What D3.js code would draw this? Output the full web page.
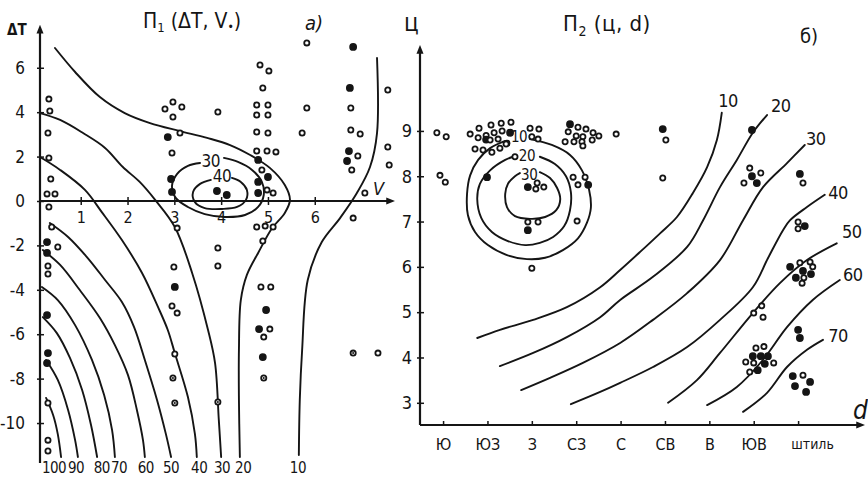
<!DOCTYPE html>
<html>
<head>
<meta charset="utf-8">
<script src="https://cdn.jsdelivr.net/npm/d3@7"></script>
<style>
	body { margin: 0; background: #fff; }
	svg { display: block; background: #fff; }
	text { font-family: 'Liberation Sans Narrow', 'DejaVu Sans Condensed', 'Roboto Condensed', Roboto, sans-serif; fill: #151515; }
	.contour { fill: none; stroke: #151515; stroke-width: 1.9; stroke-linecap: round; }
	.axis-line { stroke: #151515; stroke-width: 2.2; }
	.tick line { stroke: #151515; stroke-width: 1.5; }
</style>
</head>
<body>
<svg id="chart" width="868" height="478"></svg>
<script>
// ---------- panel а) : П1(ΔT, V•) ----------
const vTicks = [1, 2, 3, 4, 5, 6];
const dtTicks = [6, 4, 2, 0, -2, -4, -6, -8, -10];

// open contours, [V, ΔT]
const p1Levels = [100, 90, 80, 70, 60, 50, 40, 30, 20, 10];
const p1Lines = [
	[[0.26, -8.87], [0.41, -9.64], [0.51, -10.5], [0.58, -11.53]],
	[[0.26, -7.16], [0.51, -8.06], [0.73, -9.41], [0.88, -10.77], [0.94, -11.53]],
	[[0.19, -5.23], [0.49, -5.95], [0.77, -7.07], [1.03, -8.51], [1.22, -10.09], [1.35, -11.53]],
	[[0.17, -3.87], [0.51, -4.46], [0.88, -5.59], [1.24, -7.16], [1.5, -8.74], [1.67, -10.32], [1.73, -11.53]],
	[[0.19, -2.21], [0.56, -2.88], [0.98, -4.01], [1.41, -5.27], [1.73, -6.49], [2.01, -7.84], [2.2, -9.41], [2.33, -10.77], [2.37, -11.53]],
	[[0.34, -0.99], [0.73, -1.62], [1.15, -2.57], [1.52, -3.56], [1.88, -4.55], [2.14, -5.68], [2.37, -7.16], [2.63, -8.96], [2.82, -10.5], [2.93, -11.53]],
	[[0.13, 1.98], [0.56, 1.4], [1.09, 0.5], [1.45, -0.5], [1.88, -1.76], [2.31, -3.24], [2.65, -4.77], [2.86, -5.81], [3.01, -6.85], [3.29, -8.83], [3.44, -10.5], [3.48, -11.53]],
	[[0.13, 3.96], [0.56, 3.65], [1.05, 3.06], [1.52, 2.39], [1.9, 1.53], [2.26, 0.86], [2.59, 0.05], [3.01, -1.17], [3.38, -3.24], [3.72, -5.81], [3.87, -7.3], [3.95, -9.86], [4.0, -11.53]],
	[[0.45, 6.89], [0.88, 5.81], [1.41, 4.68], [1.94, 3.96], [2.48, 3.51], [3.12, 3.15], [3.7, 2.84], [4.19, 2.52], [4.62, 2.07], [5.04, 1.49], [5.36, 0.72], [5.47, 0.05], [5.36, -0.54], [5.09, -1.22], [4.79, -2.34], [4.55, -3.33], [4.42, -4.46], [4.38, -6.71], [4.38, -8.96], [4.4, -11.53]],
	[[7.33, 6.44], [7.33, 3.06], [7.18, 1.53], [6.9, 0.36], [6.54, -0.77], [6.15, -1.85], [5.85, -3.56], [5.73, -6.71], [5.68, -8.96], [5.66, -11.44]]
];
const p1LineLabels = [[0.43, -12], [0.9, -12], [1.45, -12], [1.82, -12], [2.39, -12], [2.93, -12], [3.53, -12], [4.02, -12], [4.47, -12], [5.64, -12]];

// closed contours around the maximum
const p1LoopLevels = [30, 40];
const p1Loops = [
	[[3.55, 1.71], [3.29, 1.58], [3.06, 1.22], [2.95, 0.68], [3.03, 0.14], [3.29, -0.27], [3.65, -0.59], [4.08, -0.72], [4.51, -0.63], [4.79, -0.27], [4.91, 0.27], [4.87, 0.86], [4.66, 1.4], [4.36, 1.76], [4.06, 1.94]],
	[[3.78, 0.95], [3.55, 0.77], [3.4, 0.41], [3.44, -0.05], [3.65, -0.32], [4.02, -0.36], [4.34, -0.27], [4.53, 0.05], [4.55, 0.5], [4.42, 0.86], [4.23, 1.04]]
];
const p1LoopLabels = [[3.78, 1.8], [4.02, 1.13]];

// observations: [V, ΔT, kind] kind 0 open, 1 filled, 2 dotted
const p1Dots = [
	[0.32, 4.59, 0], [0.34, 4.05, 0], [0.30, 3.06, 0], [0.32, 1.94, 0], [0.36, 0.99, 0], [0.28, 0.32, 0], [0.45, 0.32, 0], [0.32, -0.27, 0], [0.38, -1.17, 0], [0.28, -1.85, 1], [0.51, -2.07, 0], [0.28, -2.34, 1], [0.30, -2.93, 0], [0.30, -3.29, 0], [0.28, -5.14, 1], [0.30, -6.85, 1], [0.28, -7.30, 1], [0.30, -9.10, 0], [0.30, -10.77, 0], [0.30, -11.26, 0],
	[2.80, 4.14, 0], [2.97, 4.46, 0], [3.16, 4.23, 0], [2.97, 3.78, 0], [2.86, 2.88, 1], [3.12, 3.06, 0], [2.95, 2.16, 0], [2.93, 0.99, 1], [2.95, 0.41, 1], [3.06, -1.22, 0], [2.99, -2.97, 0], [3.01, -3.87, 1], [2.95, -4.73, 0], [3.06, -5.05, 0], [3.01, -6.89, 0], [2.97, -7.97, 2], [3.01, -9.10, 2],
	[3.93, 4.01, 0], [3.91, 0.45, 1], [4.12, 0.27, 1], [3.93, -2.12, 0], [3.93, -2.93, 0], [3.93, -9.05, 2],
	[4.83, 6.13, 0], [5.02, 5.86, 0], [4.89, 5.09, 0], [4.76, 4.32, 0], [5.0, 4.32, 0], [4.76, 3.87, 0], [5.0, 3.87, 0], [4.76, 3.11, 0], [5.0, 3.06, 0], [4.76, 2.25, 0], [4.98, 2.25, 0], [5.17, 2.21, 0], [4.79, 1.85, 1], [4.87, 1.40, 0], [5.0, 1.08, 1], [4.79, 0.86, 1], [4.79, 0.36, 1], [4.98, 0.50, 0], [5.11, 0.36, 0], [4.76, -1.17, 0], [4.94, -1.13, 0], [5.11, -1.17, 0], [4.89, -1.80, 0], [4.85, -3.87, 0], [5.06, -3.87, 0], [4.96, -4.91, 1], [4.81, -5.77, 1], [5.04, -5.77, 0], [4.91, -6.13, 0], [4.89, -7.03, 1], [4.91, -7.97, 2],
	[5.83, 7.12, 0], [5.83, 4.19, 0], [5.73, 3.06, 0],
	[6.82, 6.94, 1], [6.75, 5.09, 1], [6.77, 4.19, 0], [6.77, 3.20, 0], [6.97, 3.02, 0], [6.73, 2.25, 1], [6.92, 2.03, 0], [6.69, 1.80, 1], [6.79, 1.40, 0], [7.07, 0.36, 0], [6.82, -0.77, 0], [6.82, -6.85, 2], [7.35, -6.85, 0],
	[7.56, 5.0, 0], [7.56, 2.43, 0], [7.59, 1.62, 0]
];

// ---------- panel б) : П2(ц, d) ----------
const windDirs = ['Ю', 'ЮЗ', 'З', 'СЗ', 'С', 'СВ', 'В', 'ЮВ', 'штиль'];
const cloudTicks = [3, 4, 5, 6, 7, 8, 9];

// [direction index, ц]
const p2Levels = [10, 20, 30, 40, 50, 60, 70];
const p2Lines = [
	[[6.28, 9.40], [6.17, 8.80], [5.95, 8.20], [5.63, 7.63], [5.27, 7.10], [4.89, 6.74], [4.44, 6.33], [3.99, 5.93], [3.54, 5.55], [2.79, 5.11], [2.03, 4.83], [1.28, 4.61], [0.77, 4.43]],
	[[7.30, 9.35], [6.98, 8.96], [6.62, 8.36], [6.24, 7.76], [5.86, 7.03], [5.50, 6.44], [4.73, 5.78], [3.99, 5.27], [3.54, 4.89], [2.79, 4.45], [2.03, 4.10], [1.28, 3.81]],
	[[8.15, 8.69], [7.75, 8.29], [7.21, 7.76], [6.76, 7.03], [6.24, 6.15], [5.50, 5.42], [4.73, 4.83], [3.99, 4.32], [3.15, 3.88], [2.41, 3.55], [1.76, 3.28]],
	[[8.60, 7.59], [8.20, 7.32], [7.82, 7.03], [7.66, 6.81], [7.32, 6.19], [6.98, 5.55], [6.24, 4.83], [5.50, 4.23], [4.73, 3.79], [3.99, 3.44], [3.54, 3.24], [2.88, 2.97]],
	[[8.87, 6.52], [8.20, 6.15], [7.59, 5.64], [6.98, 4.98], [6.24, 4.10], [5.72, 3.50], [5.07, 3.00]],
	[[8.94, 5.71], [8.33, 5.27], [7.75, 4.67], [7.21, 3.95], [6.62, 3.35], [5.95, 2.95]],
	[[8.56, 4.39], [8.20, 4.17], [7.75, 3.79], [7.30, 3.22], [6.76, 2.80]]
];
const p2LineLabels = [[6.42, 9.68], [7.61, 9.57], [8.40, 8.84], [8.90, 7.65], [9.21, 6.77], [9.23, 5.82], [8.90, 4.48]];

const p2LoopLevels = [10, 20, 30];
const p2Loops = [
	[[1.96, 8.82], [2.45, 8.69], [2.86, 8.47], [3.13, 8.13], [3.29, 7.70], [3.33, 7.30], [3.24, 6.97], [3.04, 6.63], [2.70, 6.37], [2.30, 6.20], [1.89, 6.17], [1.44, 6.26], [1.01, 6.48], [0.72, 6.77], [0.56, 7.14], [0.54, 7.61], [0.61, 8.02], [0.79, 8.36], [1.06, 8.62], [1.40, 8.78]],
	[[2.18, 8.43], [2.52, 8.27], [2.77, 8.00], [2.88, 7.65], [2.86, 7.25], [2.73, 6.90], [2.48, 6.66], [2.18, 6.53], [1.85, 6.48], [1.46, 6.57], [1.10, 6.77], [0.86, 7.08], [0.77, 7.49], [0.83, 7.83], [1.06, 8.13], [1.40, 8.36], [1.58, 8.43]],
	[[2.18, 8.09], [2.41, 7.96], [2.57, 7.74], [2.64, 7.49], [2.55, 7.25], [2.30, 7.10], [1.96, 7.06], [1.62, 7.12], [1.44, 7.32], [1.40, 7.61], [1.46, 7.83], [1.62, 8.00], [1.73, 8.07]]
];
const p2LoopLabels = [[1.71, 8.87], [1.89, 8.45], [1.94, 8.03]];

const p2Dots = [
	[-0.14, 8.96, 0], [0.07, 8.87, 0], [-0.07, 8.02, 0], [0.05, 7.87, 0],
	[0.61, 8.93, 0], [0.81, 9.06, 0], [1.08, 9.13, 0], [1.31, 9.17, 0], [1.53, 9.19, 0], [0.79, 8.85, 0], [0.97, 8.90, 0], [1.15, 8.96, 0], [1.33, 9.00, 0], [1.51, 8.96, 1], [0.97, 8.81, 1], [1.06, 8.80, 0], [1.24, 8.82, 0], [1.44, 8.73, 0], [0.72, 8.60, 0], [0.90, 8.58, 0], [1.10, 8.53, 0], [1.28, 8.62, 0], [1.42, 8.71, 0],
	[1.96, 9.06, 0], [2.16, 9.04, 0], [2.00, 8.87, 0], [2.14, 8.82, 0], [1.62, 8.43, 0], [0.99, 7.98, 1], [1.91, 7.76, 1], [2.12, 7.85, 0], [2.09, 7.72, 0], [2.27, 7.76, 0], [1.91, 6.99, 0], [2.14, 6.99, 0], [1.91, 6.81, 1],
	[2.93, 7.98, 0], [3.20, 7.98, 0], [3.04, 7.81, 0], [3.27, 7.81, 1], [3.02, 7.01, 0],
	[2.86, 9.15, 1], [3.04, 9.08, 0], [3.22, 9.04, 0], [3.38, 8.96, 0], [3.51, 8.89, 0], [2.82, 8.98, 0], [3.00, 8.89, 0], [3.15, 8.87, 0], [3.13, 8.76, 0], [3.36, 8.80, 0], [2.75, 8.76, 0], [2.95, 8.76, 0], [3.15, 8.67, 0],
	[3.90, 8.93, 0], [2.00, 5.97, 0], [4.95, 9.04, 1], [5.02, 8.80, 0], [4.95, 7.96, 0],
	[6.96, 9.02, 1], [6.91, 8.18, 0], [7.16, 8.07, 0], [6.96, 8.00, 1], [6.78, 7.85, 0], [7.07, 7.85, 1],
	[8.04, 8.05, 1], [8.11, 7.85, 0], [8.00, 6.99, 0], [8.15, 6.90, 1], [8.00, 6.84, 0],
	[7.82, 6.00, 1], [8.04, 6.09, 0], [8.27, 6.11, 0], [8.33, 6.00, 0], [8.11, 5.91, 1], [7.95, 5.76, 1], [8.13, 5.76, 0], [8.29, 5.84, 1], [8.09, 5.64, 0],
	[7.18, 5.14, 0], [7.00, 4.98, 0], [7.21, 4.89, 0], [8.00, 4.61, 1], [8.04, 4.43, 1],
	[7.05, 4.21, 0], [7.23, 4.24, 0], [6.98, 4.03, 1], [7.16, 4.03, 1], [7.32, 4.03, 1], [6.82, 3.90, 0], [7.00, 3.88, 0], [7.25, 3.86, 1], [7.45, 3.88, 0], [6.91, 3.68, 0], [7.09, 3.72, 1],
	[7.88, 3.59, 1], [8.11, 3.61, 0], [8.27, 3.46, 1], [7.93, 3.37, 1], [8.18, 3.24, 1]
];

class ContourPanel {
	constructor(_config, _data) {
		this.config = {
			parentElement: _config.parentElement,
			xDomain: _config.xDomain,
			xRange: _config.xRange,
			yDomain: _config.yDomain,
			yRange: _config.yRange,
			xAxisAt: _config.xAxisAt,
			xTicks: _config.xTicks,
			yTicks: _config.yTicks,
			xTickFormat: _config.xTickFormat || ((d) => d),
			xTickSize: _config.xTickSize,
			xTickPadding: _config.xTickPadding,
			xTickFont: _config.xTickFont,
			yTickPadding: _config.yTickPadding,
			yTickFont: _config.yTickFont,
			lineLabelFont: _config.lineLabelFont,
			loopLabelFont: _config.loopLabelFont,
		};
		this.data = _data;
		this.initVis();
	}

	initVis() {
		let vis = this;

		vis.svg = d3.select(vis.config.parentElement);
		vis.chart = vis.svg.append('g');

		vis.x = d3.scaleLinear().domain(vis.config.xDomain).range(vis.config.xRange);
		vis.y = d3.scaleLinear().domain(vis.config.yDomain).range(vis.config.yRange);

		vis.line = d3
			.line()
			.x((d) => vis.x(d[0]))
			.y((d) => vis.y(d[1]))
			.curve(d3.curveCatmullRom.alpha(0.5));

		vis.renderVis();
	}

	renderVis() {
		let vis = this;
		let cfg = vis.config;

		// axes drawn as plain lines with arrowheads
		let x0 = vis.x(cfg.xDomain[0]);
		let yAxisY = vis.y(cfg.xAxisAt);

		vis.chart
			.append('line')
			.attr('class', 'axis-line')
			.attr('x1', x0)
			.attr('x2', x0)
			.attr('y1', vis.y(cfg.yDomain[0]))
			.attr('y2', vis.y(cfg.yDomain[1]) + 4)
			.attr('marker-end', 'url(#arrow)');

		vis.chart
			.append('line')
			.attr('class', 'axis-line')
			.attr('x1', x0)
			.attr('x2', vis.x(cfg.xDomain[1]) - 4)
			.attr('y1', yAxisY)
			.attr('y2', yAxisY)
			.attr('marker-end', 'url(#arrow)');

		let xAxis = d3
			.axisBottom(vis.x)
			.tickValues(cfg.xTicks)
			.tickSize(cfg.xTickSize)
			.tickPadding(cfg.xTickPadding)
			.tickFormat(cfg.xTickFormat);

		let xg = vis.chart
			.append('g')
			.attr('transform', `translate(0,${yAxisY})`)
			.call(xAxis);
		xg.select('.domain').remove();
		xg.selectAll('.tick line').attr('y1', -4).attr('y2', cfg.xTickSize - 4);
		xg.selectAll('text').style('font-size', cfg.xTickFont).attr('fill', '#151515');
		// the "штиль" label is smaller and set right of its tick
		xg.selectAll('text')
			.filter((d) => cfg.xTickFormat(d) === 'штиль')
			.style('font-size', '14px')
			.attr('dx', 14);

		let yAxis = d3
			.axisLeft(vis.y)
			.tickValues(cfg.yTicks)
			.tickSize(0)
			.tickPadding(cfg.yTickPadding)
			.tickFormat((d) => (d < 0 ? '-' + Math.abs(d) : d));

		let yg = vis.chart
			.append('g')
			.attr('transform', `translate(${x0},0)`)
			.call(yAxis);
		yg.select('.domain').remove();
		yg.selectAll('.tick')
			.append('line')
			.attr('x1', -3)
			.attr('x2', 4);
		yg.selectAll('text').style('font-size', cfg.yTickFont).attr('fill', '#151515');

		// open contour lines
		vis.chart
			.selectAll('.contour-line')
			.data(vis.data.lines)
			.join('path')
			.attr('class', 'contour contour-line')
			.attr('d', (d) => vis.line(d));

		vis.chart
			.selectAll('.line-label')
			.data(vis.data.lineLabels)
			.join('text')
			.attr('class', 'line-label')
			.attr('x', (d) => vis.x(d[0]))
			.attr('y', (d) => vis.y(d[1]))
			.attr('dy', '0.36em')
			.attr('text-anchor', 'middle')
			.style('font-size', cfg.lineLabelFont)
			.style('letter-spacing', '-0.5px')
			.text((d, i) => vis.data.levels[i]);

		// closed contours, left open where the label sits
		vis.chart
			.selectAll('.contour-loop')
			.data(vis.data.loops)
			.join('path')
			.attr('class', 'contour contour-loop')
			.attr('d', (d) => vis.line(d));

		vis.chart
			.selectAll('.loop-label')
			.data(vis.data.loopLabels)
			.join('text')
			.attr('class', 'loop-label')
			.attr('x', (d) => vis.x(d[0]))
			.attr('y', (d) => vis.y(d[1]))
			.attr('dy', '0.36em')
			.attr('text-anchor', 'middle')
			.style('font-size', cfg.loopLabelFont)
			.style('letter-spacing', '-0.5px')
			.text((d, i) => vis.data.loopLevels[i]);

		// observations
		vis.chart
			.selectAll('.obs-dot')
			.data(vis.data.dots)
			.join('circle')
			.attr('class', 'obs-dot')
			.attr('cx', (d) => vis.x(d[0]))
			.attr('cy', (d) => vis.y(d[1]))
			.attr('r', (d) => (d[2] === 1 ? 3 : 2.6))
			.attr('fill', (d) => (d[2] === 1 ? '#151515' : '#fff'))
			.attr('stroke', '#151515')
			.attr('stroke-width', 1.8);

		vis.chart
			.selectAll('.obs-core')
			.data(vis.data.dots.filter((d) => d[2] === 2))
			.join('circle')
			.attr('class', 'obs-core')
			.attr('cx', (d) => vis.x(d[0]))
			.attr('cy', (d) => vis.y(d[1]))
			.attr('r', 1)
			.attr('fill', '#151515');
	}
}

let svg = d3.select('#chart');

svg.append('defs')
	.append('marker')
	.attr('id', 'arrow')
	.attr('viewBox', '0 0 10 10')
	.attr('refX', 2)
	.attr('refY', 5)
	.attr('markerWidth', 4)
	.attr('markerHeight', 4)
	.attr('orient', 'auto')
	.append('path')
	.attr('d', 'M0,1 L10,5 L0,9 Z')
	.attr('fill', '#151515');

let panelA = new ContourPanel(
	{
		parentElement: '#chart',
		xDomain: [0.13, 7.65],
		xRange: [40, 392],
		yDomain: [-11.8, 7.8],
		yRange: [463, 27.8],
		xAxisAt: 0,
		xTicks: vTicks,
		yTicks: dtTicks,
		xTickSize: 8,
		xTickPadding: 3,
		xTickFont: '16px',
		yTickPadding: 15,
		yTickFont: '17px',
		lineLabelFont: '15px',
		loopLabelFont: '17px',
	},
	{
		levels: p1Levels,
		lines: p1Lines,
		lineLabels: p1LineLabels,
		loopLevels: p1LoopLevels,
		loops: p1Loops,
		loopLabels: p1LoopLabels,
		dots: p1Dots,
	}
);

let panelB = new ContourPanel(
	{
		parentElement: '#chart',
		xDomain: [-0.52, 9.44],
		xRange: [420, 862],
		yDomain: [2.51, 10.83],
		yRange: [425, 48],
		xAxisAt: 2.51,
		xTicks: d3.range(windDirs.length),
		yTicks: cloudTicks,
		xTickFormat: (i) => windDirs[i],
		xTickSize: 4,
		xTickPadding: 10,
		xTickFont: '16px',
		yTickPadding: 8,
		yTickFont: '18px',
		lineLabelFont: '18px',
		loopLabelFont: '15px',
	},
	{
		levels: p2Levels,
		lines: p2Lines,
		lineLabels: p2LineLabels,
		loopLevels: p2LoopLevels,
		loops: p2Loops,
		loopLabels: p2LoopLabels,
		dots: p2Dots,
	}
);

// titles and axis names
let title1 = svg.append('text').attr('x', 143).attr('y', 28).style('font-size', '21px');
title1.append('tspan').text('П');
title1.append('tspan').attr('dy', 4).style('font-size', '13px').text('1');
title1.append('tspan').attr('dy', -4).text(' (ΔT, V');
title1.append('tspan').attr('dy', 3).style('font-size', '12px').text('•');
title1.append('tspan').attr('dy', -3).text(')');

svg.append('text').attr('x', 305).attr('y', 30).style('font-size', '20px').style('font-style', 'italic').text('а)');

let title2 = svg.append('text').attr('x', 563).attr('y', 31).style('font-size', '22px').style('letter-spacing', '0.5px');
title2.append('tspan').text('П');
title2.append('tspan').attr('dy', 5).style('font-size', '14px').text('2');
title2.append('tspan').attr('dy', -5).text(' (ц, d)');

svg.append('text').attr('x', 800).attr('y', 43).style('font-size', '20px').text('б)');

svg.append('text').attr('x', 7).attr('y', 35).style('font-size', '15px').style('font-weight', 'bold').text('ΔT');
svg.append('text').attr('x', 373).attr('y', 195).style('font-size', '18px').style('font-style', 'italic').text('V');
svg.append('text').attr('x', 404).attr('y', 31).style('font-size', '24px').text('ц');
svg.append('text').attr('x', 853).attr('y', 419).style('font-size', '26px').style('font-style', 'italic').text('d');
</script>
</body>
</html>
